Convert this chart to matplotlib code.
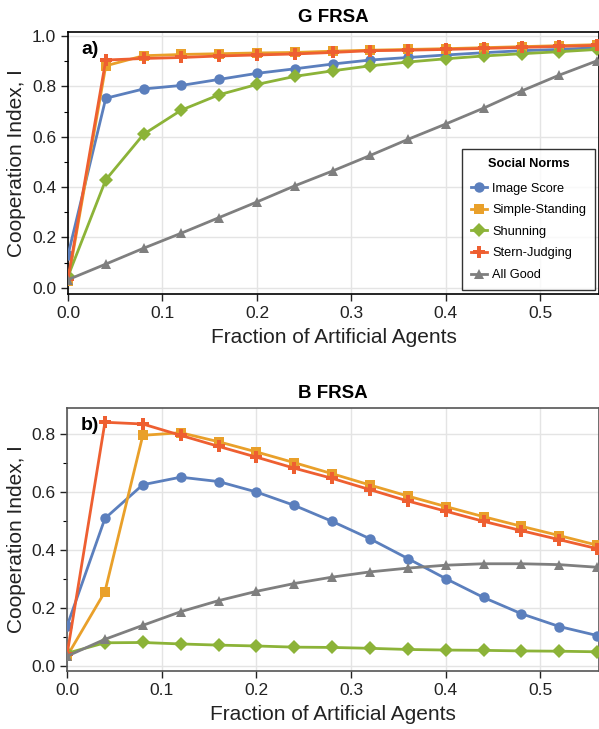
import numpy as np
import matplotlib
matplotlib.use("Agg")
import matplotlib.pyplot as plt
from matplotlib.ticker import MultipleLocator

plt.rcParams["font.family"] = ["Liberation Sans", "DejaVu Sans"]

frac = [0.00, 0.04, 0.08, 0.12, 0.16, 0.20, 0.24, 0.28,
        0.32, 0.36, 0.40, 0.44, 0.48, 0.52, 0.56]

norms = ["Image Score", "Simple-Standing", "Shunning", "Stern-Judging", "All Good"]

# G FRSA
g_image = [0.13, 0.753, 0.79, 0.804, 0.828, 0.852, 0.870, 0.889,
           0.905, 0.915, 0.925, 0.934, 0.942, 0.947, 0.954]
g_simple = [0.025, 0.882, 0.922, 0.927, 0.930, 0.933, 0.935, 0.940,
            0.944, 0.947, 0.950, 0.954, 0.958, 0.962, 0.966]
g_shun = [0.045, 0.429, 0.610, 0.706, 0.767, 0.808, 0.840, 0.862,
          0.882, 0.897, 0.910, 0.921, 0.930, 0.938, 0.947]
g_stern = [0.035, 0.905, 0.911, 0.915, 0.921, 0.925, 0.929, 0.935,
           0.942, 0.944, 0.947, 0.951, 0.955, 0.959, 0.963]
g_allgood = [0.032, 0.094, 0.157, 0.217, 0.279, 0.341, 0.405, 0.464,
             0.526, 0.590, 0.651, 0.714, 0.782, 0.845, 0.902]

# B FRSA
b_image = [0.139, 0.509, 0.625, 0.651, 0.636, 0.600, 0.554, 0.499,
           0.439, 0.371, 0.302, 0.237, 0.181, 0.137, 0.106]
b_simple = [0.035, 0.257, 0.795, 0.804, 0.773, 0.738, 0.701, 0.663,
            0.624, 0.586, 0.550, 0.515, 0.482, 0.450, 0.417]
b_shun = [0.045, 0.081, 0.082, 0.077, 0.073, 0.070, 0.066, 0.065,
          0.062, 0.058, 0.056, 0.055, 0.053, 0.052, 0.050]
b_stern = [0.041, 0.840, 0.834, 0.795, 0.757, 0.720, 0.682, 0.647,
           0.608, 0.569, 0.534, 0.499, 0.467, 0.436, 0.405]
b_allgood = [0.035, 0.093, 0.141, 0.188, 0.226, 0.258, 0.285, 0.307,
             0.325, 0.338, 0.348, 0.353, 0.353, 0.350, 0.341]

colours = ["#5b7fbd", "#e9a02a", "#8cb338", "#ee5f31", "#7f7f7f"]
markers = ["o", "s", "D", "P", "^"]
msizes = [7.5, 7.5, 7, 8.5, 7.5]

fig = plt.figure(figsize=(5.99, 7.29), dpi=100)
ax1 = fig.add_axes([0.1135, 0.597, 0.8865, 0.359])
ax2 = fig.add_axes([0.112, 0.0796, 0.888, 0.3607])

panels = [
    (ax1, [g_image, g_simple, g_shun, g_stern, g_allgood], "G FRSA", "a)",
     (-0.024, 1.016), "black"),
    (ax2, [b_image, b_simple, b_shun, b_stern, b_allgood], "B FRSA", "b)",
     (-0.016, 0.889), "#555555"),
]

for ax, series, title, tag, ylim, spine_col in panels:
    for vals, name, c, m, ms in zip(series, norms, colours, markers, msizes):
        ax.plot(frac, vals, color=c, marker=m, markersize=ms, linewidth=2.0,
                markeredgewidth=0, label=name, zorder=3)
    ax.set_xlim(0, 0.562)
    ax.set_ylim(*ylim)
    ax.xaxis.set_major_locator(MultipleLocator(0.1))
    ax.yaxis.set_major_locator(MultipleLocator(0.2))
    ax.yaxis.set_minor_locator(MultipleLocator(0.1))
    ax.tick_params(axis="both", which="major", labelsize=12.5, direction="out",
                   length=5, width=1, colors="#222222")
    ax.tick_params(axis="y", which="minor", direction="out", length=3, width=0.8)
    ax.grid(True, color="#e4e4e4", linewidth=1, zorder=0)
    for s in ax.spines.values():
        s.set_color(spine_col)
        s.set_linewidth(1.2)
    ax.set_xlabel("Fraction of Artificial Agents", fontsize=15, color="#222222",
                  labelpad=5)
    ax.set_ylabel("Cooperation Index, I", fontsize=15, color="#222222")
    ax.set_title(title, fontsize=13.5, fontweight="bold", pad=7)
    ax.text(0.025, 0.965, tag, transform=ax.transAxes, fontsize=14,
            fontweight="bold", va="top", ha="left", zorder=5)

leg = ax1.legend(loc="lower right", title="Social Norms", fontsize=9.2,
                 title_fontproperties={"weight": "bold", "size": 9.2},
                 frameon=True, fancybox=False, edgecolor="black",
                 borderaxespad=0.3, borderpad=0.7, handlelength=1.3,
                 handletextpad=0.4, labelspacing=0.75)
leg.get_frame().set_linewidth(1.0)
leg._legend_box.sep = 9

plt.savefig("out.png", dpi=100)
